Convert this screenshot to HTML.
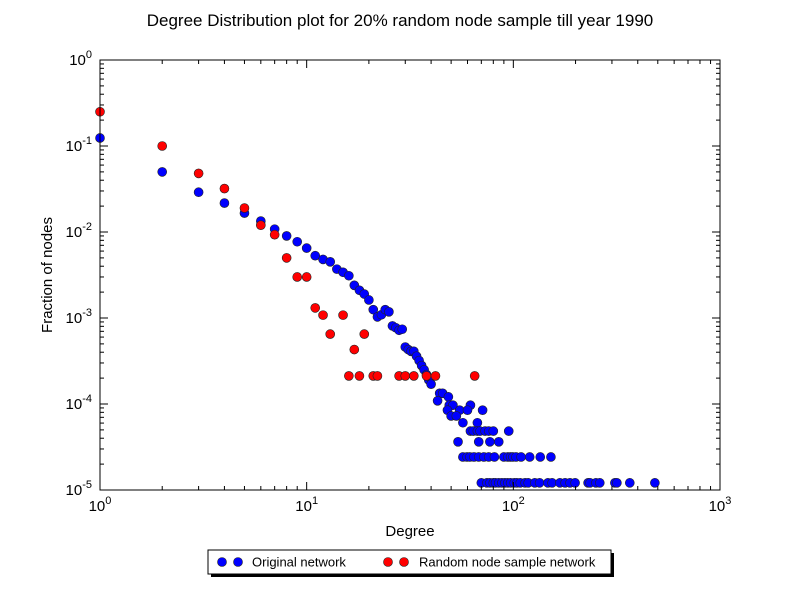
<!DOCTYPE html>
<html><head><meta charset="utf-8"><style>
body{margin:0;background:#fff;}
svg text{font-family:"Liberation Sans",sans-serif;}
</style></head><body>
<svg id="chart" width="800" height="600" xmlns="http://www.w3.org/2000/svg">
<rect width="800" height="600" fill="#fff"/>
<text x="400" y="26" text-anchor="middle" font-size="17">Degree Distribution plot for 20% random node sample till year 1990</text>
<rect x="100" y="60" width="620" height="430" fill="#fff"/>
<g id="marks"></g>
<g id="axes"></g>
<rect x="100" y="60" width="620" height="430" fill="none" stroke="#000" stroke-width="1"/>
<text x="410" y="536" text-anchor="middle" font-size="15">Degree</text>
<text transform="translate(52,275) rotate(-90)" text-anchor="middle" font-size="15">Fraction of nodes</text>
<g>
<rect x="211" y="553" width="403" height="24" fill="#000"/>
<rect x="208" y="550" width="403" height="24" fill="#fff" stroke="#000"/>
<g>
<circle cx="222" cy="562" r="4.5" fill="#0000ff" stroke="#222" stroke-width="0.6"/>
<circle cx="238" cy="562" r="4.5" fill="#0000ff" stroke="#222" stroke-width="0.6"/>
<text x="252" y="566.5" font-size="13">Original network</text>
</g>
<g>
<circle cx="388" cy="562" r="4.5" fill="#ff0000" stroke="#222" stroke-width="0.6"/>
<circle cx="404" cy="562" r="4.5" fill="#ff0000" stroke="#222" stroke-width="0.6"/>
<text x="419" y="566.5" font-size="13">Random node sample network</text>
</g>
</g>
</svg>
<script>
const N = 82600;
const blueDeg = [1,2,3,4,5,6,7,8,9,10,11,12,13,14,15,16,17,18,19,20,21,22,23,24,25,26,27,28,29,30,31,32,33,34,35,36,37,38,39,40,
 44,45.5,48.5,43,49,51,62,48,55,60,71,50,53,57,67,62,64,67,69,73,76,80,95,54,68,77,85,
 57,59.7,61.6,64.5,68,72,76,81,90,94,97,99.5,103,109,120,135,152,
 70,74.5,77,80,82,85,88,91,94,97,101,104,108,114,118,127,134,147,154,168,178,188,199,230,235,251,262,310,317,366,484];
const blueFrac = [0.124,0.050,0.029,0.0217,0.0166,0.0134,0.0108,0.0090,0.0077,0.0065,0.0053,0.0048,0.0045,0.0037,0.0034,0.0031,0.0024,0.0021,0.0019,0.00162,0.00125,0.00103,0.00109,0.00125,0.00118,0.00081,0.00077,0.00072,0.00074,0.00046,0.00043,0.00041,0.00041,0.00036,0.00032,0.00028,0.00025,0.00022,0.00019,0.00017,
 11/N,11/N,10/N,9/N,8/N,8/N,8/N,7/N,7/N,7/N,7/N,6/N,6/N,5/N,5/N,4/N,4/N,4/N,4/N,4/N,4/N,4/N,4/N,3/N,3/N,3/N,3/N,
 2/N,2/N,2/N,2/N,2/N,2/N,2/N,2/N,2/N,2/N,2/N,2/N,2/N,2/N,2/N,2/N,2/N,
 1/N,1/N,1/N,1/N,1/N,1/N,1/N,1/N,1/N,1/N,1/N,1/N,1/N,1/N,1/N,1/N,1/N,1/N,1/N,1/N,1/N,1/N,1/N,1/N,1/N,1/N,1/N,1/N,1/N,1/N,1/N];
const redDeg = [1,2,3,4,5,6,7,8,9,10,11,12,15,13,19,17,16,18,21,22,28,30,33,38,42,65];
const redFrac = [0.25,0.10,0.048,0.032,0.019,0.012,0.0093,0.005,0.003,0.003,0.00131,0.00108,0.00108,0.00065,0.00065,0.00043,0.000212,0.000212,0.000212,0.000212,0.000212,0.000212,0.000212,0.000212,0.000212,0.000212];
const xTicks = [0,1,2,3];
const yTicks = [0,-1,-2,-3,-4,-5];

const X0=100,X1=720,Y0=490,Y1=60;
function xs(v){return X0+(Math.log10(v)-0)/3*(X1-X0);}
function ys(v){return Y0-(Math.log10(v)+5)/5*(Y0-Y1);}
const NS="http://www.w3.org/2000/svg";
const marks=document.getElementById('marks');
const axes=document.getElementById('axes');
function mk(t,a,p){const e=document.createElementNS(NS,t);for(const k in a)e.setAttribute(k,a[k]);p.appendChild(e);return e;}
function series(dx,dy,color,name){
  const g=mk('g',{},marks);
  
  
  for(let i=0;i<dx.length;i++){
    const c=mk('circle',{cx:xs(dx[i]),cy:ys(dy[i]),r:4.5,fill:color,stroke:'#222','stroke-width':0.6},g);
    
    
  }
}
series(blueDeg,blueFrac,'#0000ff','original-network-series');
series(redDeg,redFrac,'#ff0000','random-sample-series');

// ticks
xTicks.forEach((d,i)=>{
  const x=xs(Math.pow(10,d));
  mk('line',{x1:x,x2:x,y1:Y0,y2:Y0-8,stroke:'#000'},axes);
  mk('line',{x1:x,x2:x,y1:Y1,y2:Y1+8,stroke:'#000'},axes);
  const t=mk('text',{x:x,y:Y0+21,'text-anchor':'middle','font-size':15},axes);
  
  
  t.innerHTML='10<tspan dy="-7" font-size="11">'+d+'</tspan>';
  if(i<xTicks.length-1){for(let m=2;m<10;m++){const xm=xs(m*Math.pow(10,d));
    mk('line',{x1:xm,x2:xm,y1:Y0,y2:Y0-4,stroke:'#000'},axes);
    mk('line',{x1:xm,x2:xm,y1:Y1,y2:Y1+4,stroke:'#000'},axes);}}
});
yTicks.forEach((d,i)=>{
  const y=ys(Math.pow(10,d));
  mk('line',{x1:X0,x2:X0+8,y1:y,y2:y,stroke:'#000'},axes);
  mk('line',{x1:X1,x2:X1-8,y1:y,y2:y,stroke:'#000'},axes);
  const t=mk('text',{x:X0-8,y:y+5,'text-anchor':'end','font-size':15},axes);
  
  
  t.innerHTML='10<tspan dy="-7" font-size="11">'+d+'</tspan>';
  if(d>-5){for(let m=2;m<10;m++){const ym=ys(m*Math.pow(10,d-1));
    mk('line',{x1:X0,x2:X0+4,y1:ym,y2:ym,stroke:'#000'},axes);
    mk('line',{x1:X1,x2:X1-4,y1:ym,y2:ym,stroke:'#000'},axes);}}
});
</script>
</body></html>
